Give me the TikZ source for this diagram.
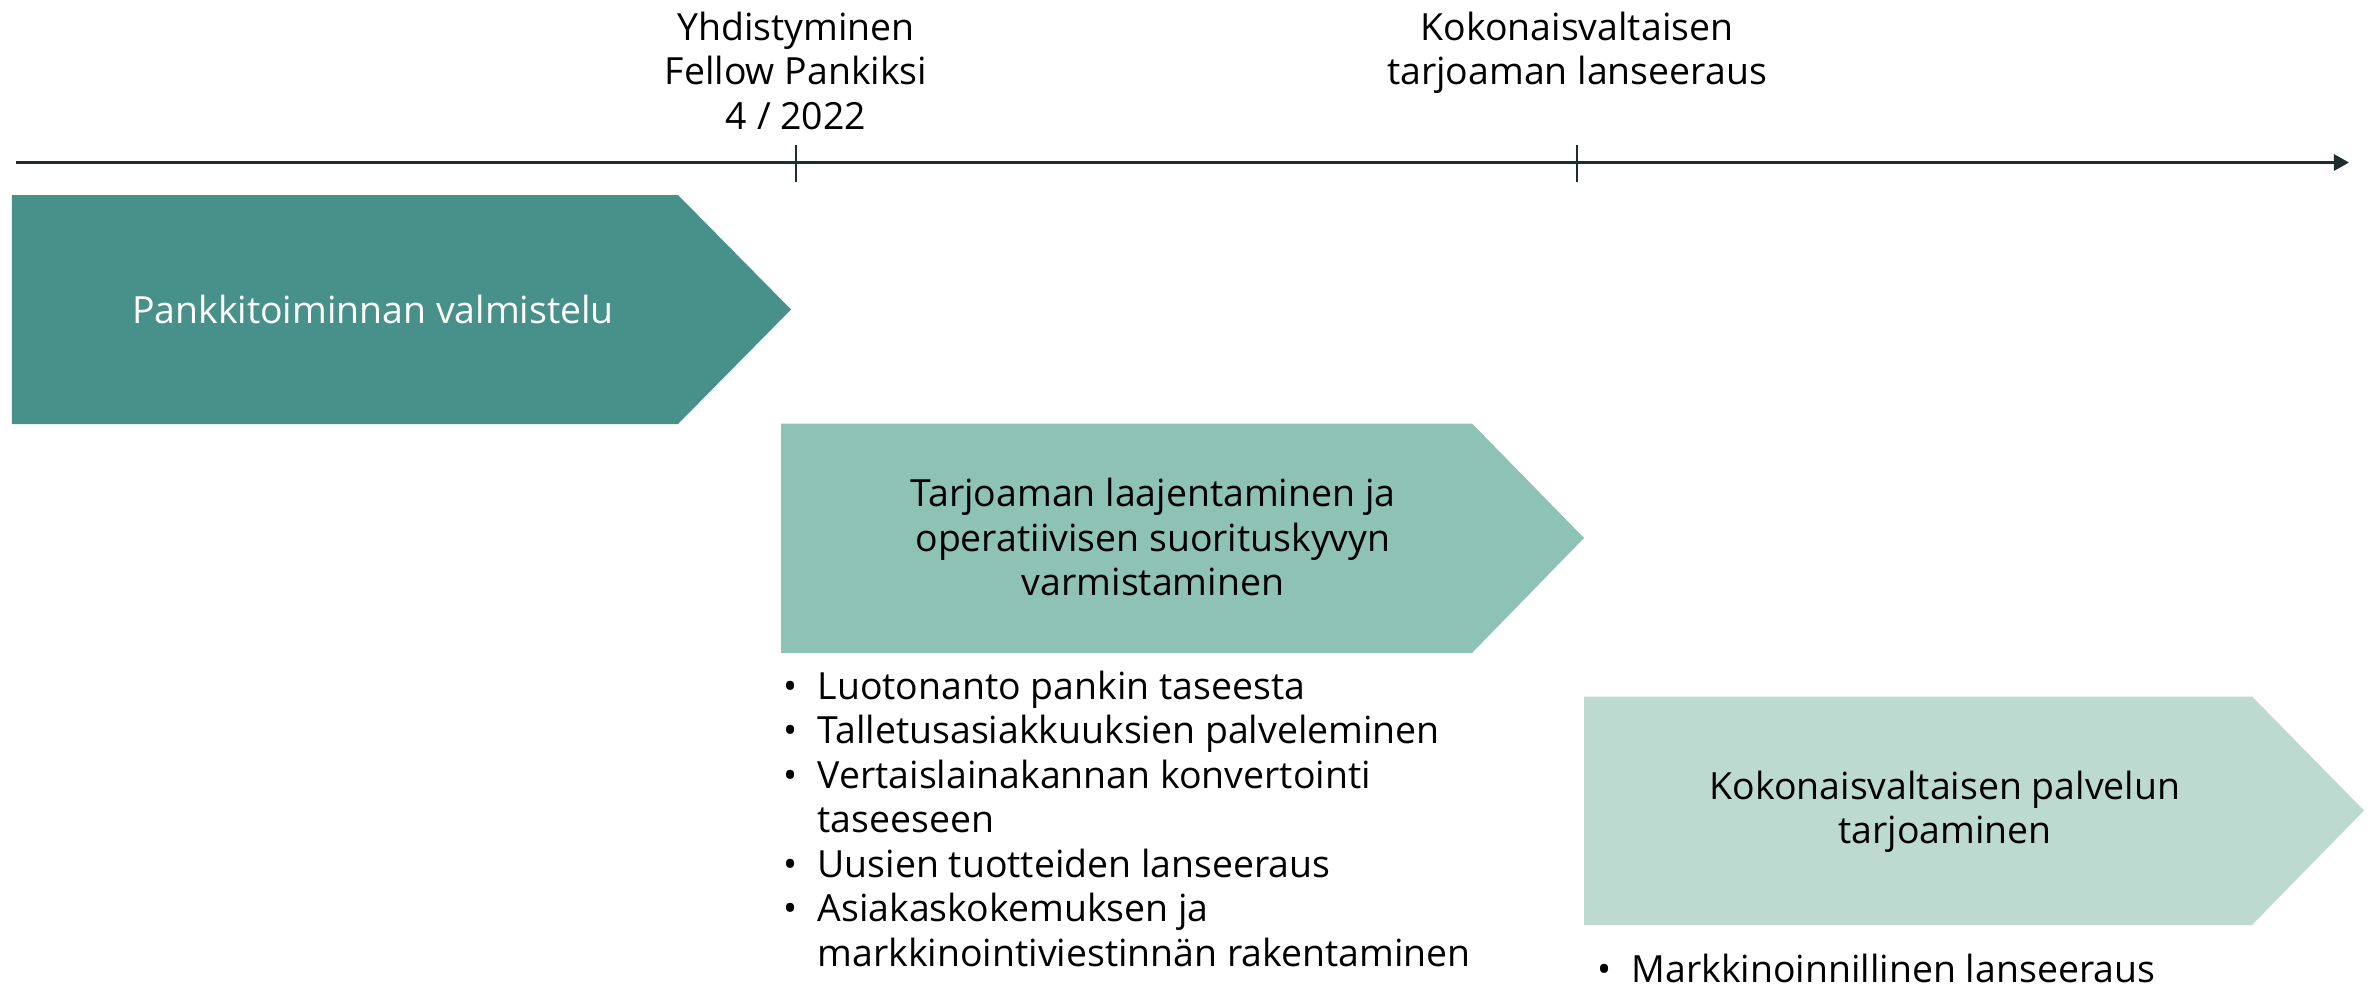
\documentclass[tikz,border=0pt]{standalone}
\usepackage{fontspec}
\setmainfont{Open Sans}
\usepackage{tikz}
\usetikzlibrary{arrows.meta, positioning}

\definecolor{tealdark}{RGB}{72,145,138}
\definecolor{tealmid}{RGB}{141,194,181}
\definecolor{teallight}{RGB}{188,218,207}
\definecolor{axisline}{RGB}{30,45,45}

\newcommand{\bul}{\makebox[0.34cm][l]{\textbullet}}
\newcommand{\cont}{\hspace*{0.34cm}}

\tikzset{
  milestone/.style={align=center, anchor=north},
  phaselabel/.style={align=center},
  tasklist/.style={align=left, anchor=north west}
}

\begin{document}
\begin{tikzpicture}[font=\fontsize{10.65}{12.66}\selectfont, every node/.style={inner sep=0pt}]
  \useasboundingbox (0,0) rectangle (23.76,9.86);

  % Timeline
  \coordinate (tstart) at (0.16,8.235);
  \coordinate (tend) at (23.49,8.235);
  \draw[axisline, line width=0.74pt, -{Triangle[length=4.3pt,width=4.6pt]}] (tstart) -- (tend);
  \foreach \x in {7.96, 15.77} {
    \draw[axisline, line width=0.57pt] (\x,8.04) -- (\x,8.41);
  }

  % Milestones
  \node[milestone] (merge) at (7.96,9.75) {Yhdistyminen\\Fellow Pankiksi\\4 / 2022};
  \node[milestone] (launch) at (15.77,9.75) {Kokonaisvaltaisen\\tarjoaman lanseeraus};

  % Phase arrows
  \fill[tealdark] (0.12,7.91) -- (6.78,7.91) -- (7.91,6.765) -- (6.78,5.62) -- (0.12,5.62) -- cycle;
  \node[phaselabel, text=white] (prep) at (3.73,6.77) {Pankkitoiminnan valmistelu};

  \fill[tealmid] (7.81,5.625) -- (14.72,5.625) -- (15.84,4.48) -- (14.72,3.33) -- (7.81,3.33) -- cycle;
  \node[phaselabel] (expand) at (11.53,4.49) {Tarjoaman laajentaminen ja\\operatiivisen suorituskyvyn\\varmistaminen};

  \fill[teallight] (15.84,2.895) -- (22.52,2.895) -- (23.64,1.755) -- (22.52,0.61) -- (15.84,0.61) -- cycle;
  \node[phaselabel] (service) at (19.45,1.74) {Kokonaisvaltaisen palvelun\\tarjoaminen};

  % Tasks
  \node[tasklist] (tasks2) at (7.83,3.16) {\bul Luotonanto pankin taseesta\\
    \bul Talletusasiakkuuksien palveleminen\\
    \bul Vertaislainakannan konvertointi\\
    \cont taseeseen\\
    \bul Uusien tuotteiden lanseeraus\\
    \bul Asiakaskokemuksen ja\\
    \cont markkinointiviestinnän rakentaminen};
  \node[tasklist] (tasks3) at (15.97,0.33) {\bul Markkinoinnillinen lanseeraus};
\end{tikzpicture}
\end{document}
